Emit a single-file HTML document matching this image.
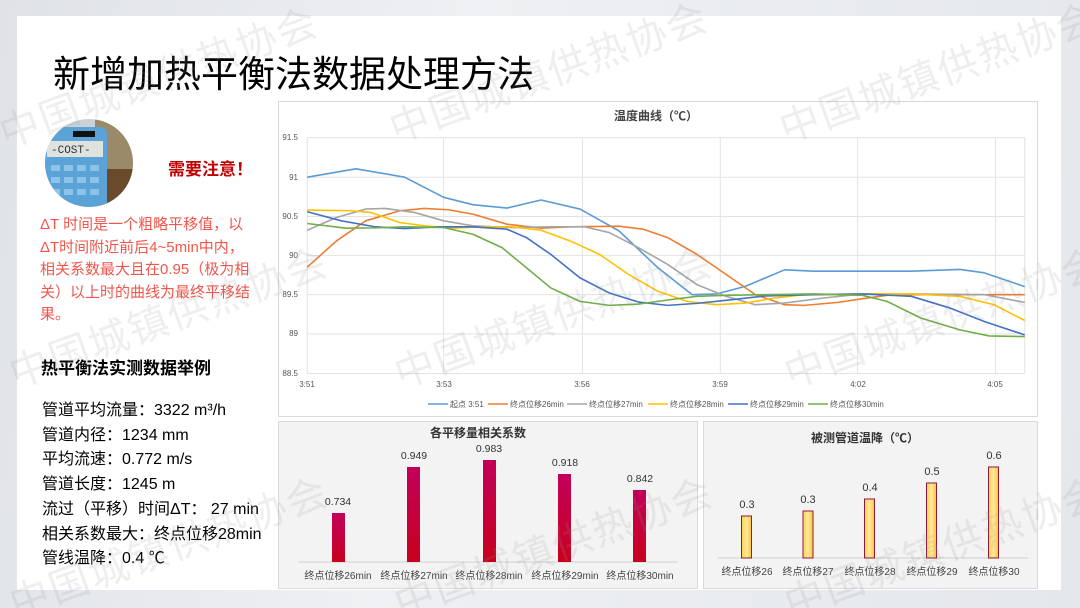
<!DOCTYPE html>
<html><head><meta charset="utf-8">
<style>
html{width:1080px;height:608px;overflow:hidden}
html,body{margin:0;padding:0}
body{width:1080px;height:608px;position:relative;overflow:hidden;background:linear-gradient(100deg,#dfe2e7,#eef0f3 40%,#e4e7eb);font-family:"Liberation Sans","Noto Sans CJK SC",sans-serif}
.card{position:absolute;left:17px;top:16px;width:1044px;height:574px;background:#fff}
.t{position:absolute;white-space:nowrap}
.wm{position:absolute;white-space:nowrap;font-size:40px;color:rgba(150,150,150,0.16);transform:rotate(-20deg);transform-origin:left top;letter-spacing:2px}
.box{position:absolute;background:#fff;border:1px solid #d9d9d9}
.box2{position:absolute;background:#f3f3f3;border:1px solid #d9d9d9}
</style></head><body>
<div class="card"></div>
<div class="t" style="left:53px;top:52px;font-size:37px;color:#000;line-height:46px">新增加热平衡法数据处理方法</div>

<svg style="position:absolute;left:45px;top:119px" width="88" height="88" viewBox="0 0 88 88">
<defs><clipPath id="c"><circle cx="44" cy="44" r="44"/></clipPath></defs>
<g clip-path="url(#c)">
<rect width="88" height="88" fill="#c9d2d8"/>
<rect x="50" y="0" width="40" height="88" fill="#9a8a6a"/>
<rect x="55" y="50" width="35" height="38" fill="#6a4a2a"/>
<rect x="0" y="8" width="62" height="90" rx="6" fill="#5ba3d6"/>
<rect x="2" y="22" width="56" height="16" fill="#dfe3e0"/>
<text x="6" y="34" font-size="11" font-family="Liberation Mono" fill="#333">-COST-</text>
<rect x="28" y="12" width="22" height="6" fill="#111"/>
<g fill="#8cc3e8"><rect x="6" y="46" width="9" height="6"/><rect x="19" y="46" width="9" height="6"/><rect x="32" y="46" width="9" height="6"/><rect x="45" y="46" width="9" height="6"/>
<rect x="6" y="58" width="9" height="6"/><rect x="19" y="58" width="9" height="6"/><rect x="32" y="58" width="9" height="6"/><rect x="45" y="58" width="9" height="6"/>
<rect x="6" y="70" width="9" height="6"/><rect x="19" y="70" width="9" height="6"/><rect x="32" y="70" width="9" height="6"/><rect x="45" y="70" width="9" height="6"/></g>
</g></svg>
<div class="t" style="left:168px;top:155px;font-size:17px;font-weight:bold;color:#c00000">需要注意！</div>
<div class="t" style="left:40px;top:214px;font-size:15px;line-height:22.5px;color:#f0564c">ΔT 时间是一个粗略平移值，以<br>ΔT时间附近前后4~5min中内，<br>相关系数最大且在0.95（极为相<br>关）以上时的曲线为最终平移结<br>果。</div>
<div class="t" style="left:41px;top:354px;font-size:17px;font-weight:bold;color:#000">热平衡法实测数据举例</div>
<div class="t" style="left:42px;top:399px;font-size:16px;line-height:24.7px;color:#000">管道平均流量：3322 m³/h<br>管道内径：1234 mm<br>平均流速：0.772 m/s<br>管道长度：1245 m<br>流过（平移）时间ΔT： 27 min<br>相关系数最大：终点位移28min<br>管线温降：0.4 ℃</div>

<div class="box" style="left:278px;top:101px;width:758px;height:314px"></div>
<svg style="position:absolute;left:0;top:0" width="1080" height="608">
<g transform="translate(278,100) scale(0.4871,0.3356)" fill="none">
<g stroke="#e3e3e3" stroke-width="1" vector-effect="non-scaling-stroke">
<path vector-effect="non-scaling-stroke" d="M60 112H1533M60 230H1533M60 347H1533M60 463H1533M60 580H1533M60 697H1533M60 815H1533M60 112V815M340 112V815M625 112V815M908 112V815M1190 112V815M1473 112V815M1533 112V815"/>
</g>
<g stroke-width="1.6" stroke-linejoin="round">
<polyline vector-effect="non-scaling-stroke" stroke="#5b9bd5" points="60,230 160,205 260,230 340,290 400,312 470,322 540,298 620,325 700,390 780,500 850,580 900,578 960,555 1040,506 1100,510 1200,510 1300,510 1400,505 1450,515 1533,556"/>
<polyline vector-effect="non-scaling-stroke" stroke="#ed7d31" points="60,498 120,420 180,360 250,330 300,323 350,327 400,340 470,370 540,382 600,378 700,376 750,385 800,410 860,460 920,520 980,580 1040,610 1080,612 1150,603 1200,592 1260,580 1533,580"/>
<polyline vector-effect="non-scaling-stroke" stroke="#a5a5a5" points="60,388 120,350 180,325 220,323 280,335 340,360 400,375 480,380 560,378 630,378 680,395 740,440 800,490 860,550 920,585 980,610 1040,605 1120,590 1200,578 1300,578 1450,580 1533,603"/>
<polyline vector-effect="non-scaling-stroke" stroke="#ffc000" points="60,328 150,330 190,335 250,365 300,375 360,382 420,378 480,378 540,388 600,420 660,460 720,520 780,570 840,600 900,610 960,605 1020,590 1080,580 1200,578 1300,578 1400,585 1470,610 1533,657"/>
<polyline vector-effect="non-scaling-stroke" stroke="#4472c4" points="60,333 130,360 200,378 260,383 330,378 400,378 470,385 510,410 560,460 620,530 680,575 740,602 800,612 860,606 920,597 1000,584 1100,580 1200,578 1300,585 1380,620 1450,660 1533,700"/>
<polyline vector-effect="non-scaling-stroke" stroke="#70ad47" points="60,368 140,382 200,381 260,378 340,380 400,400 460,440 510,500 560,560 620,600 680,612 740,608 800,596 860,585 920,582 1000,580 1100,578 1200,582 1250,600 1320,650 1400,685 1460,703 1533,705"/>
</g></g>
<g font-size="8" fill="#555" font-family="Liberation Sans">
<text x="298" y="140" text-anchor="end">91.5</text><text x="298" y="180" text-anchor="end">91</text><text x="298" y="219" text-anchor="end">90.5</text><text x="298" y="258" text-anchor="end">90</text><text x="298" y="297" text-anchor="end">89.5</text><text x="298" y="336" text-anchor="end">89</text><text x="298" y="376" text-anchor="end">88.5</text>
<g text-anchor="middle"><text x="307" y="387">3:51</text><text x="444" y="387">3:53</text><text x="582" y="387">3:56</text><text x="720" y="387">3:59</text><text x="858" y="387">4:02</text><text x="995" y="387">4:05</text></g>
</g>
<text x="656" y="120" text-anchor="middle" font-size="12" font-weight="bold" fill="#444" font-family="Liberation Sans,Noto Sans CJK SC">温度曲线（℃）</text>
<g font-size="8" fill="#555" font-family="Liberation Sans,Noto Sans CJK SC" stroke-width="1.6">
<line x1="428" y1="404" x2="448" y2="404" stroke="#5b9bd5"/><text x="450" y="407">起点 3:51</text>
<line x1="488" y1="404" x2="508" y2="404" stroke="#ed7d31"/><text x="510" y="407">终点位移26min</text>
<line x1="567" y1="404" x2="587" y2="404" stroke="#a5a5a5"/><text x="589" y="407">终点位移27min</text>
<line x1="648" y1="404" x2="668" y2="404" stroke="#ffc000"/><text x="670" y="407">终点位移28min</text>
<line x1="728" y1="404" x2="748" y2="404" stroke="#4472c4"/><text x="750" y="407">终点位移29min</text>
<line x1="808" y1="404" x2="828" y2="404" stroke="#70ad47"/><text x="830" y="407">终点位移30min</text>
</g>
</svg>

<div class="box2" style="left:278px;top:421px;width:418px;height:166px"></div>
<div class="box2" style="left:703px;top:421px;width:333px;height:166px"></div>
<svg style="position:absolute;left:0;top:0" width="1080" height="608" font-family="Liberation Sans,Noto Sans CJK SC">
<defs>
<linearGradient id="r" x1="0" y1="0" x2="0" y2="1"><stop offset="0" stop-color="#c2005a"/><stop offset="1" stop-color="#c8001e"/></linearGradient>
<linearGradient id="y" x1="0" y1="0" x2="1" y2="0"><stop offset="0" stop-color="#ffcf4a"/><stop offset="0.5" stop-color="#ffe9a0"/><stop offset="1" stop-color="#ffc430"/></linearGradient>
</defs>
<text x="478" y="437" text-anchor="middle" font-size="12" font-weight="bold" fill="#333">各平移量相关系数</text>
<line x1="298" y1="562" x2="678" y2="562" stroke="#d0d0d0"/>
<g fill="url(#r)"><rect x="332" y="513" width="13" height="49"/><rect x="407" y="467" width="13" height="95"/><rect x="483" y="460" width="13" height="102"/><rect x="558" y="474" width="13" height="88"/><rect x="633" y="490" width="13" height="72"/></g>
<g font-size="10.5" fill="#333" text-anchor="middle"><text x="338" y="505">0.734</text><text x="414" y="459">0.949</text><text x="489" y="452">0.983</text><text x="565" y="466">0.918</text><text x="640" y="482">0.842</text></g>
<g font-size="10" fill="#444" text-anchor="middle"><text x="338" y="579">终点位移26min</text><text x="414" y="579">终点位移27min</text><text x="489" y="579">终点位移28min</text><text x="565" y="579">终点位移29min</text><text x="640" y="579">终点位移30min</text></g>
<text x="865" y="442" text-anchor="middle" font-size="12" font-weight="bold" fill="#333">被测管道温降（℃）</text>
<line x1="718" y1="558" x2="1028" y2="558" stroke="#d0d0d0"/>
<g fill="url(#y)" stroke="#8b1a3a" stroke-width="1"><rect x="741.5" y="516" width="10" height="42"/><rect x="803" y="511" width="10" height="47"/><rect x="864.5" y="499" width="10" height="59"/><rect x="926.5" y="483" width="10" height="75"/><rect x="988.5" y="467" width="10" height="91"/></g>
<g font-size="11" fill="#333" text-anchor="middle"><text x="747" y="508">0.3</text><text x="808" y="503">0.3</text><text x="870" y="491">0.4</text><text x="932" y="475">0.5</text><text x="994" y="459">0.6</text></g>
<g font-size="10" fill="#444" text-anchor="middle"><text x="747" y="575">终点位移26</text><text x="808" y="575">终点位移27</text><text x="870" y="575">终点位移28</text><text x="932" y="575">终点位移29</text><text x="994" y="575">终点位移30</text></g>
</svg>

<div class="wm" style="left:-10px;top:105px">中国城镇供热协会</div>
<div class="wm" style="left:380px;top:100px">中国城镇供热协会</div>
<div class="wm" style="left:770px;top:100px">中国城镇供热协会</div>
<div class="wm" style="left:0px;top:345px">中国城镇供热协会</div>
<div class="wm" style="left:385px;top:345px">中国城镇供热协会</div>
<div class="wm" style="left:775px;top:345px">中国城镇供热协会</div>
<div class="wm" style="left:0px;top:575px">中国城镇供热协会</div>
<div class="wm" style="left:385px;top:575px">中国城镇供热协会</div>
<div class="wm" style="left:775px;top:575px">中国城镇供热协会</div>
</body></html>
